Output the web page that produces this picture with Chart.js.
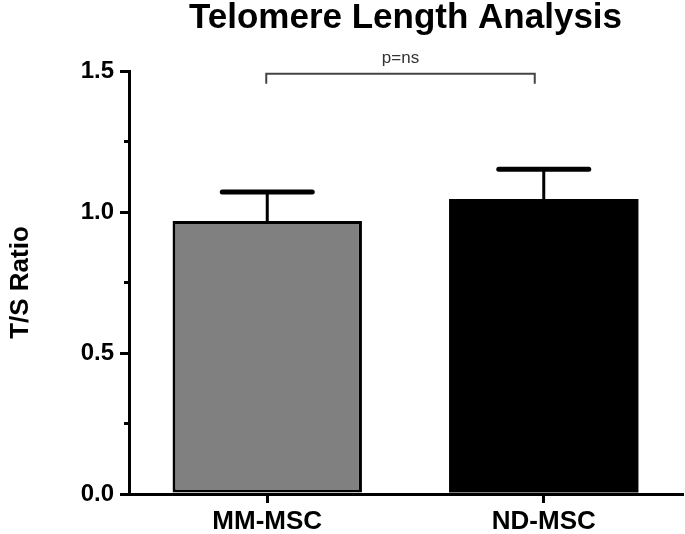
<!DOCTYPE html>
<html>
<head>
<meta charset="utf-8">
<script src="https://cdn.jsdelivr.net/npm/chart.js@4.4.0/dist/chart.umd.min.js"></script>
<style>
    body { margin: 0; background: #fff; }
    #wrap { width: 685px; height: 534px; }
</style>
</head>
<body>
<div id="wrap"><canvas id="chartTelomere"></canvas></div>
<script>
var categories = ['MM-MSC', 'ND-MSC'];
var meanValues = [0.968, 1.046];
var semValues = [0.103, 0.106];
var barColors = ['#808080', '#000000'];
var yTicks = [0, 0.5, 1.0, 1.5];
var yMinorTicks = [0.25, 0.75, 1.25];
var bracketLevel = 1.49;
var bracketTip = 1.455;
var bracketText = 'p=ns';

var errorBars = {
    id: 'errorBars',
    afterDatasetsDraw: function(chart) {
        var ctx = chart.ctx;
        var y = chart.scales.y;
        var meta = chart.getDatasetMeta(0);
        ctx.save();
        ctx.strokeStyle = '#000';
        meta.data.forEach(function(bar, i) {
            var top = y.getPixelForValue(meanValues[i] + semValues[i]);
            var base = y.getPixelForValue(meanValues[i]);
            ctx.lineWidth = 3;
            ctx.lineCap = 'butt';
            ctx.beginPath();
            ctx.moveTo(bar.x, base);
            ctx.lineTo(bar.x, top);
            ctx.stroke();
            ctx.lineWidth = 5;
            ctx.lineCap = 'round';
            ctx.beginPath();
            ctx.moveTo(bar.x - 45, top);
            ctx.lineTo(bar.x + 45, top);
            ctx.stroke();
        });
        ctx.restore();
    }
};

var extras = {
    id: 'extras',
    afterDraw: function(chart) {
        var ctx = chart.ctx;
        var x = chart.scales.x;
        var y = chart.scales.y;
        ctx.save();
        // minor ticks
        ctx.strokeStyle = '#000';
        ctx.lineWidth = 3;
        yMinorTicks.forEach(function(v) {
            var py = y.getPixelForValue(v);
            ctx.beginPath();
            ctx.moveTo(chart.chartArea.left - 5, py);
            ctx.lineTo(chart.chartArea.left, py);
            ctx.stroke();
        });
        // significance bracket
        var x1 = x.getPixelForValue(0) - 1;
        var x2 = x.getPixelForValue(1) - 9;
        var yl = y.getPixelForValue(bracketLevel);
        var yt = y.getPixelForValue(bracketTip);
        ctx.strokeStyle = '#444';
        ctx.lineWidth = 2;
        ctx.beginPath();
        ctx.moveTo(x1, yt);
        ctx.lineTo(x1, yl);
        ctx.lineTo(x2, yl);
        ctx.lineTo(x2, yt);
        ctx.stroke();
        ctx.fillStyle = '#333';
        ctx.font = '17px "Liberation Sans", Arial, sans-serif';
        ctx.textAlign = 'center';
        ctx.textBaseline = 'alphabetic';
        ctx.fillText(bracketText, (x1 + x2) / 2, yl - 11);
        ctx.restore();
    }
};

var ctx = document.getElementById('chartTelomere').getContext('2d');
var chart = new Chart(ctx, {
    type: 'bar',
    data: {
        labels: categories,
        datasets: [{
            data: meanValues,
            backgroundColor: barColors,
            borderColor: '#000',
            borderWidth: [3, 0],
            borderSkipped: false,
            barPercentage: 0.685,
            categoryPercentage: 1
        }]
    },
    plugins: [errorBars, extras],
    options: {
        responsive: true,
        maintainAspectRatio: false,
        animation: false,
        layout: { padding: { top: 0, right: 3, left: 0, bottom: 0 } },
        plugins: {
            legend: { display: false },
            tooltip: { enabled: false },
            title: {
                display: true,
                text: 'Telomere Length Analysis',
                fullSize: false,
                color: '#000',
                font: { family: '"Liberation Sans", Arial, sans-serif', size: 35, weight: 'bold', lineHeight: 1 },
                padding: { top: 1, bottom: 35 }
            }
        },
        scales: {
            x: {
                grid: { display: true, offset: false, drawOnChartArea: false, color: '#000', lineWidth: 3, tickLength: 9 },
                border: { display: true, color: '#000', width: 3 },
                ticks: {
                    color: '#000',
                    padding: 3,
                    font: { family: '"Liberation Sans", Arial, sans-serif', size: 26, weight: 'bold' }
                },
                afterFit: function(scale) { scale.height = 40; }
            },
            y: {
                min: 0,
                max: 1.5,
                afterBuildTicks: function(scale) {
                    scale.ticks = yTicks.map(function(v) { return { value: v }; });
                },
                grid: { display: true, drawOnChartArea: false, color: '#000', lineWidth: 3, tickLength: 9 },
                border: { display: true, color: '#000', width: 3 },
                ticks: {
                    color: '#000',
                    padding: 6,
                    font: { family: '"Liberation Sans", Arial, sans-serif', size: 24, weight: 'bold' },
                    callback: function(v) { return Number(v).toFixed(1); }
                },
                title: {
                    display: true,
                    text: 'T/S Ratio',
                    color: '#000',
                    padding: { top: 5, bottom: 0 },
                    font: { family: '"Liberation Sans", Arial, sans-serif', size: 26, weight: 'bold' }
                },
                afterFit: function(scale) { scale.width = 129; }
            }
        }
    }
});
</script>
</body>
</html>
